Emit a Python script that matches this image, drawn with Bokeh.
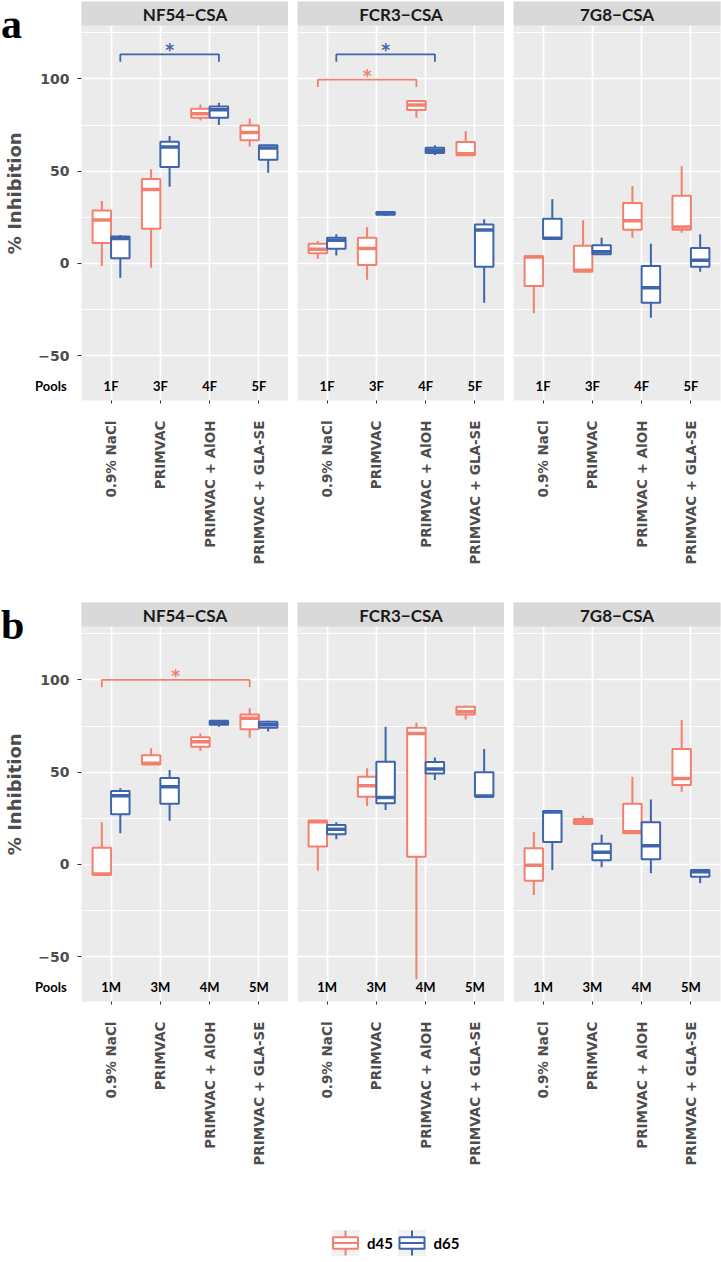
import math
from bokeh.plotting import figure
from bokeh.models import ColumnDataSource, Range1d, FixedTicker
from bokeh.layouts import column, row
from bokeh.embed import file_html
from bokeh.resources import INLINE
from bokeh.core.properties import value

# ---------------- data ----------------
strains = ["NF54\u2212CSA", "FCR3\u2212CSA", "7G8\u2212CSA"]
groups = ["0.9% NaCl", "PRIMVAC", "PRIMVAC + AlOH", "PRIMVAC + GLA-SE"]
pools_a = ["1F", "3F", "4F", "5F"]
pools_b = ["1M", "3M", "4M", "5M"]
days = ["d45", "d65"]

# each entry per group: (lower whisker, Q1, median, Q3, upper whisker)
a_NF54_d45 = [(-1.5, 11.0, 23.5, 28.7, 33.8), (-2.4, 18.8, 40.1, 45.7, 51.0),
              (77.5, 79.0, 81.1, 83.8, 86.2), (63.4, 66.7, 71.0, 74.8, 78.6)]
a_NF54_d65 = [(-7.8, 2.7, 13.4, 14.6, 15.3), (41.5, 52.2, 63.1, 65.9, 69.0),
              (75.0, 79.0, 83.3, 85.1, 87.1), (49.1, 56.2, 62.5, 64.0, 64.2)]
a_FCR3_d45 = [(2.5, 5.4, 7.6, 10.6, 12.1), (-8.9, -0.9, 8.1, 13.9, 19.7),
              (79.0, 83.1, 85.8, 88.0, 88.6), (58.6, 58.6, 59.4, 65.8, 71.7)]
a_FCR3_d65 = [(4.3, 7.9, 12.5, 13.9, 15.7), (25.6, 26.4, 27.1, 27.9, 28.4),
              (58.7, 59.8, 61.3, 62.7, 64.0), (-21.4, -1.8, 18.1, 21.1, 23.9)]
a_7G8_d45 = [(-27.1, -12.3, 3.4, 3.8, 3.8), (-4.6, -4.6, -3.8, 9.5, 23.3),
             (13.9, 18.2, 23.1, 32.7, 41.9), (16.6, 18.2, 19.7, 36.7, 52.6)]
a_7G8_d65 = [(13.2, 13.2, 13.6, 24.2, 34.7), (4.9, 4.9, 6.3, 9.8, 13.9),
             (-29.5, -21.4, -13.2, -1.5, 10.6), (-4.6, -1.8, 1.6, 8.3, 15.7)]

b_NF54_d45 = [(-5.8, -5.8, -5.3, 9.0, 22.8), (54.2, 54.2, 54.8, 59.1, 62.9),
              (61.4, 63.8, 66.5, 68.9, 71.0), (68.7, 73.2, 79.2, 81.3, 84.6)]
b_NF54_d65 = [(16.8, 27.1, 37.2, 39.8, 41.2), (23.6, 32.9, 42.1, 46.8, 51.1),
              (74.6, 75.7, 76.8, 77.9, 78.3), (72.1, 74.1, 75.7, 77.3, 77.9)]
b_FCR3_d45 = [(-3.5, 9.6, 23.1, 23.7, 24.0), (31.6, 36.7, 42.6, 47.5, 52.1),
              (-62.4, 4.1, 71.0, 74.1, 76.8), (78.6, 81.3, 82.8, 85.5, 86.2)]
b_FCR3_d65 = [(13.6, 16.3, 19.0, 21.3, 22.8), (29.4, 33.1, 36.3, 55.6, 74.6),
              (45.7, 49.3, 51.7, 55.5, 58.0), (36.7, 36.7, 37.0, 49.9, 62.5)]
b_7G8_d45 = [(-16.6, -8.9, -0.5, 8.7, 17.5), (21.9, 21.9, 23.1, 24.6, 26.4),
             (16.3, 16.8, 17.7, 32.9, 47.5), (39.4, 43.0, 46.6, 62.5, 78.3)]
b_7G8_d65 = [(-3.1, 12.1, 28.4, 28.9, 29.4), (-1.6, 2.2, 6.5, 11.2, 16.1),
             (-4.9, 2.7, 10.1, 22.8, 35.2), (-10.3, -6.7, -4.0, -3.1, -2.7)]

# significance brackets
sig_panel = ["a", "a", "a", "b"]
sig_strain = [0, 1, 1, 0]
sig_from = [1, 1, 1, 1]
sig_to = [3, 3, 3, 4]
sig_day = ["d65", "d65", "d45", "d45"]
sig_y = [113.3, 113.3, 99.6, 100.0]
sig_label = ["*", "*", "*", "*"]

y_ticks = [-50, 0, 50, 100]
y_minor = [-25, 25, 75, 125]

# ---------------- style ----------------
COL = {"d45": "#F3806F", "d65": "#3E64AC"}
OFF = {"d45": -0.1875, "d65": 0.1875}
BW = 0.375
PANEL_BG = "#EBEBEB"
STRIP_BG = "#D9D9D9"
Y0, Y1 = -74.4, 142.0
STRIP_LO = 129.0
AXIS_FONT = "DejaVu Sans"
CAL = "Lato"
FW = 207
PX_PER_X = FW / 4.2
LEFT_W = 81
XL = 0.4 - LEFT_W / PX_PER_X

stats = {
    "a": [(a_NF54_d45, a_NF54_d65), (a_FCR3_d45, a_FCR3_d65), (a_7G8_d45, a_7G8_d65)],
    "b": [(b_NF54_d45, b_NF54_d65), (b_FCR3_d45, b_FCR3_d65), (b_7G8_d45, b_7G8_d65)],
}


def facet(panel, si, pools, top_b, bot_b):
    first = si == 0
    p = figure(frame_width=FW + (LEFT_W if first else 0), frame_height=399,
               x_range=Range1d(XL if first else 0.4, 4.6), y_range=Range1d(Y0, Y1),
               output_backend="svg", toolbar_location=None,
               min_border_left=0 if first else 9,
               min_border_right=1 if si == 2 else 0,
               min_border_top=top_b, min_border_bottom=bot_b)
    p.border_fill_color = "white"
    p.outline_line_color = None
    if first:
        # panel background drawn as an underlay rectangle; margin stays white
        p.background_fill_color = "white"
        p.quad(left=[0.4], right=[4.6 + 1], bottom=[Y0 - 10], top=[Y1 + 10],
               fill_color=PANEL_BG, line_color=None, level="underlay")
    else:
        p.background_fill_color = PANEL_BG

    # grid
    p.xgrid.ticker = FixedTicker(ticks=[1, 2, 3, 4])
    p.ygrid.ticker = FixedTicker(ticks=y_ticks, minor_ticks=y_minor)
    for g in (p.xgrid, p.ygrid):
        g.grid_line_color = "white"
        g.grid_line_width = 1.7
    p.ygrid.minor_grid_line_color = "white"
    p.ygrid.minor_grid_line_width = 0.9

    # x axis
    xa = p.xaxis[0]
    xa.ticker = FixedTicker(ticks=[1, 2, 3, 4])
    xa.major_label_overrides = {i + 1: g for i, g in enumerate(groups)}
    xa.major_label_orientation = math.pi / 2
    xa.axis_line_color = None
    xa.major_tick_out = 3
    xa.major_tick_in = 0
    xa.major_tick_line_color = "#333333"
    xa.minor_tick_line_color = None
    xa.major_label_standoff = 17
    xa.major_label_text_font = AXIS_FONT
    xa.major_label_text_font_style = "bold"
    xa.major_label_text_font_size = "13.5px"
    xa.major_label_text_color = "#4D4D4D"

    # y axis
    ya = p.yaxis[0]
    ya.ticker = FixedTicker(ticks=y_ticks, minor_ticks=y_minor)
    if first:
        ya.fixed_location = 0.4
        ya.axis_line_color = None
        ya.major_tick_out = 4
        ya.major_tick_in = 0
        ya.major_tick_line_color = "#333333"
        ya.minor_tick_line_color = None
        ya.major_label_standoff = 8
        ya.major_label_text_font = AXIS_FONT
        ya.major_label_text_font_style = "bold"
        ya.major_label_text_font_size = "14px"
        ya.major_label_text_color = "#4D4D4D"
        ya.major_label_overrides = {-50: "\u221250"}
        # axis title, panel letter and "Pools"
        p.text(x=[XL + 13.5 / PX_PER_X], y=[38.0], text=["% Inhibition"],
               angle=math.pi / 2, text_align="center", text_baseline="middle",
               text_font=value(AXIS_FONT), text_font_style="bold",
               text_font_size="18px", text_color="#4D4D4D")
        p.text(x=[XL + 0.5 / PX_PER_X], y=[129.8], text=[panel],
               text_align="left", text_baseline="alphabetic",
               text_font=value("Liberation Serif"), text_font_style="bold",
               text_font_size="42px", text_color="black")
        p.text(x=[XL + 50.3 / PX_PER_X], y=[-66.3], text=["Pools"],
               text_align="center", text_baseline="middle",
               text_font=value(CAL), text_font_style="bold",
               text_font_size="13px", text_color="black")
    else:
        ya.visible = False

    # strip
    p.quad(left=[0.4], right=[4.6 + 1], bottom=[STRIP_LO], top=[Y1 + 10],
           fill_color=STRIP_BG, line_color=None)
    p.text(x=[2.5], y=[(STRIP_LO + Y1) / 2 - 0.3], text=[strains[si]],
           text_align="center", text_baseline="middle",
           text_font=value(CAL), text_font_style="bold",
           text_font_size="17px", text_color="#1A1A1A")

    # boxes
    for di, day in enumerate(days):
        st = stats[panel][si][di]
        xs = [i + 1 + OFF[day] for i in range(len(st))]
        src = ColumnDataSource(dict(
            x=xs, lo=[s[0] for s in st], q1=[s[1] for s in st],
            med=[s[2] for s in st], q3=[s[3] for s in st], hi=[s[4] for s in st],
            xl=[x - BW / 2 for x in xs], xr=[x + BW / 2 for x in xs]))
        c = COL[day]
        p.segment(x0="x", y0="q3", x1="x", y1="hi", source=src, line_color=c, line_width=2)
        p.segment(x0="x", y0="q1", x1="x", y1="lo", source=src, line_color=c, line_width=2)
        p.vbar(x="x", width=BW, bottom="q1", top="q3", source=src,
               fill_color="white", line_color=c, line_width=2)
        p.segment(x0="xl", y0="med", x1="xr", y1="med", source=src,
                  line_color=c, line_width=3.5)

    # significance brackets
    for k in range(len(sig_y)):
        if sig_panel[k] != panel or sig_strain[k] != si:
            continue
        c = COL[sig_day[k]]
        xa0 = sig_from[k] + OFF[sig_day[k]]
        xa1 = sig_to[k] + OFF[sig_day[k]]
        yy = sig_y[k]
        p.line(x=[xa0, xa0, xa1, xa1], y=[yy - 4, yy, yy, yy - 4],
               line_color=c, line_width=1.8)
        p.text(x=[(xa0 + xa1) / 2], y=[yy + 2.2], text=[sig_label[k]],
               text_align="center", text_baseline="middle",
               text_font=value(AXIS_FONT), text_font_style="bold",
               text_font_size="17px", text_color=c)

    # pool labels
    p.text(x=[1, 2, 3, 4], y=[-66.3] * 4, text=pools, text_align="center",
           text_baseline="middle", text_font=value(CAL), text_font_style="bold",
           text_font_size="13px", text_color="black")
    return p


row_a = row([facet("a", i, pools_a, 1, 201) for i in range(3)], spacing=0)
row_b = row([facet("b", i, pools_b, 1, 214) for i in range(3)], spacing=0)

# legend
leg = figure(frame_width=721, frame_height=45, x_range=Range1d(0, 721),
             y_range=Range1d(0, 45), min_border=0, toolbar_location=None,
             output_backend="svg", x_axis_location=None, y_axis_location=None)
leg.outline_line_color = None
leg.background_fill_color = "white"
leg.xgrid.visible = False
leg.ygrid.visible = False
leg_x = [331, 397.5]
for k, day in enumerate(days):
    c = COL[day]
    x0 = leg_x[k]
    leg.quad(left=[x0], right=[x0 + 28], bottom=[4.5], top=[30.5],
             fill_color="#F2F2F2", line_color=None)
    leg.segment(x0=[x0 + 14, x0 + 14], y0=[5, 23.3], x1=[x0 + 14, x0 + 14], y1=[11.7, 30],
                line_color=c, line_width=2)
    leg.quad(left=[x0 + 1.5], right=[x0 + 26.5], bottom=[11.7], top=[23.3],
             fill_color="white", line_color=c, line_width=2)
    leg.segment(x0=[x0 + 1.5], y0=[17.5], x1=[x0 + 26.5], y1=[17.5], line_color=c, line_width=2)
    leg.text(x=[x0 + 35.5], y=[17.5], text=[day], text_align="left", text_baseline="middle",
             text_font=value(CAL), text_font_style="bold", text_font_size="15px",
             text_color="black")

layout = column([row_a, row_b, leg], spacing=0)

with open("out.html", "w") as f:
    f.write(file_html(layout, INLINE))
